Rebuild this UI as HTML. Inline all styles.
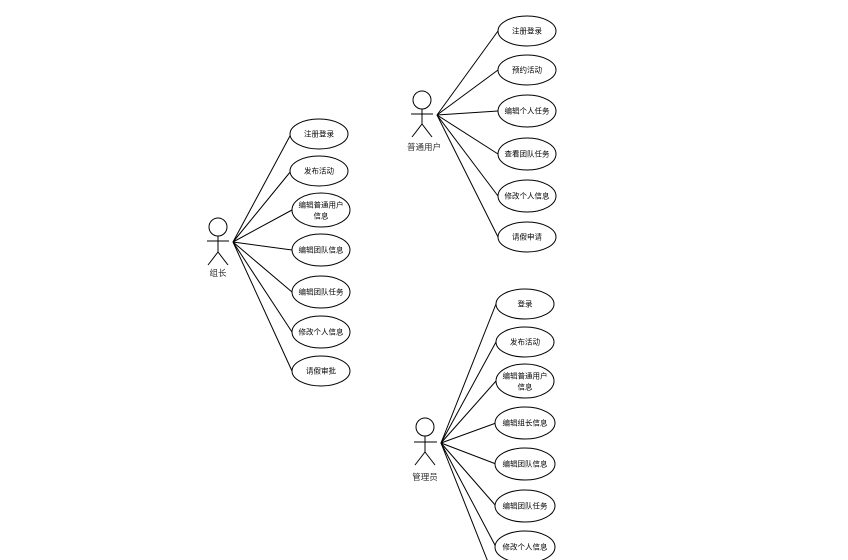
<!DOCTYPE html>
<html><head><meta charset="utf-8"><style>
html,body{margin:0;padding:0;background:#fff;}
svg{display:block}
text{font-family:"Liberation Sans","Noto Sans CJK SC",sans-serif;font-size:7.5px;fill:#000;text-anchor:middle;dominant-baseline:central}
.lbl{font-size:8.5px;fill:#333}
</style></head><body>
<svg width="848" height="560" viewBox="0 0 848 560" xmlns="http://www.w3.org/2000/svg">
<g stroke="#000" stroke-width="1" fill="none">
<!-- leader -->
<circle cx="218" cy="227" r="9"/>
<line x1="218" y1="236" x2="218" y2="252"/>
<line x1="207" y1="241" x2="229" y2="241"/>
<line x1="218" y1="252" x2="208" y2="265"/>
<line x1="218" y1="252" x2="228" y2="265"/>
<line x1="233" y1="242" x2="291" y2="134"/>
<line x1="233" y1="242" x2="291" y2="171"/>
<line x1="233" y1="242" x2="292" y2="210"/>
<line x1="233" y1="242" x2="292" y2="250"/>
<line x1="233" y1="242" x2="292" y2="292"/>
<line x1="233" y1="242" x2="292" y2="332"/>
<line x1="233" y1="242" x2="292" y2="371"/>
<!-- user -->
<circle cx="422" cy="100" r="9"/>
<line x1="422" y1="109" x2="422" y2="124"/>
<line x1="411" y1="114" x2="433" y2="114"/>
<line x1="422" y1="124" x2="412" y2="137"/>
<line x1="422" y1="124" x2="432" y2="137"/>
<line x1="437" y1="115" x2="498" y2="31"/>
<line x1="437" y1="115" x2="498" y2="70"/>
<line x1="437" y1="115" x2="498" y2="111"/>
<line x1="437" y1="115" x2="498" y2="154"/>
<line x1="437" y1="115" x2="498" y2="196"/>
<line x1="437" y1="115" x2="498" y2="237"/>
<!-- admin -->
<circle cx="425" cy="427" r="9"/>
<line x1="425" y1="436" x2="425" y2="452"/>
<line x1="414" y1="442" x2="437" y2="442"/>
<line x1="425" y1="452" x2="415" y2="465"/>
<line x1="425" y1="452" x2="435" y2="465"/>
<line x1="441" y1="443" x2="496" y2="304"/>
<line x1="441" y1="443" x2="496" y2="342"/>
<line x1="441" y1="443" x2="496" y2="381"/>
<line x1="441" y1="443" x2="496" y2="423"/>
<line x1="441" y1="443" x2="496" y2="464"/>
<line x1="441" y1="443" x2="496" y2="506"/>
<line x1="441" y1="443" x2="496" y2="547"/>
<line x1="441" y1="443" x2="488" y2="562"/>
</g>
<g stroke="#000" stroke-width="1" fill="#fff">
<ellipse cx="319" cy="134" rx="29" ry="15"/>
<ellipse cx="319" cy="171" rx="29" ry="15"/>
<ellipse cx="321" cy="210" rx="29" ry="17"/>
<ellipse cx="321" cy="250" rx="29" ry="16"/>
<ellipse cx="321" cy="292" rx="29" ry="16"/>
<ellipse cx="321" cy="332" rx="29" ry="16"/>
<ellipse cx="321" cy="371" rx="29" ry="15"/>
<ellipse cx="527" cy="31" rx="29" ry="15"/>
<ellipse cx="527" cy="70" rx="29" ry="15"/>
<ellipse cx="527" cy="111" rx="29" ry="16"/>
<ellipse cx="527" cy="154" rx="29" ry="16"/>
<ellipse cx="527" cy="196" rx="29" ry="16"/>
<ellipse cx="527" cy="237" rx="29" ry="15"/>
<ellipse cx="525" cy="304" rx="29" ry="15"/>
<ellipse cx="525" cy="342" rx="29" ry="15"/>
<ellipse cx="525" cy="381" rx="29" ry="17"/>
<ellipse cx="525" cy="423" rx="30" ry="16"/>
<ellipse cx="525" cy="464" rx="30" ry="16"/>
<ellipse cx="525" cy="506" rx="30" ry="16"/>
<ellipse cx="525" cy="547" rx="30" ry="16"/>
</g>
<text class="lbl" x="218" y="273">组长</text>
<text class="lbl" x="424" y="147">普通用户</text>
<text class="lbl" x="425" y="477">管理员</text>
<text x="319" y="134">注册登录</text>
<text x="319" y="171">发布活动</text>
<text x="321" y="205">编辑普通用户</text>
<text x="321" y="216">信息</text>
<text x="321" y="250">编辑团队信息</text>
<text x="321" y="292">编辑团队任务</text>
<text x="321" y="332">修改个人信息</text>
<text x="321" y="371">请假审批</text>
<text x="527" y="31">注册登录</text>
<text x="527" y="70">预约活动</text>
<text x="527" y="111">编辑个人任务</text>
<text x="527" y="154">查看团队任务</text>
<text x="527" y="196">修改个人信息</text>
<text x="527" y="237">请假申请</text>
<text x="525" y="304">登录</text>
<text x="525" y="342">发布活动</text>
<text x="525" y="376">编辑普通用户</text>
<text x="525" y="387">信息</text>
<text x="525" y="423">编辑组长信息</text>
<text x="525" y="464">编辑团队信息</text>
<text x="525" y="506">编辑团队任务</text>
<text x="525" y="547">修改个人信息</text>
</svg>
</body></html>
